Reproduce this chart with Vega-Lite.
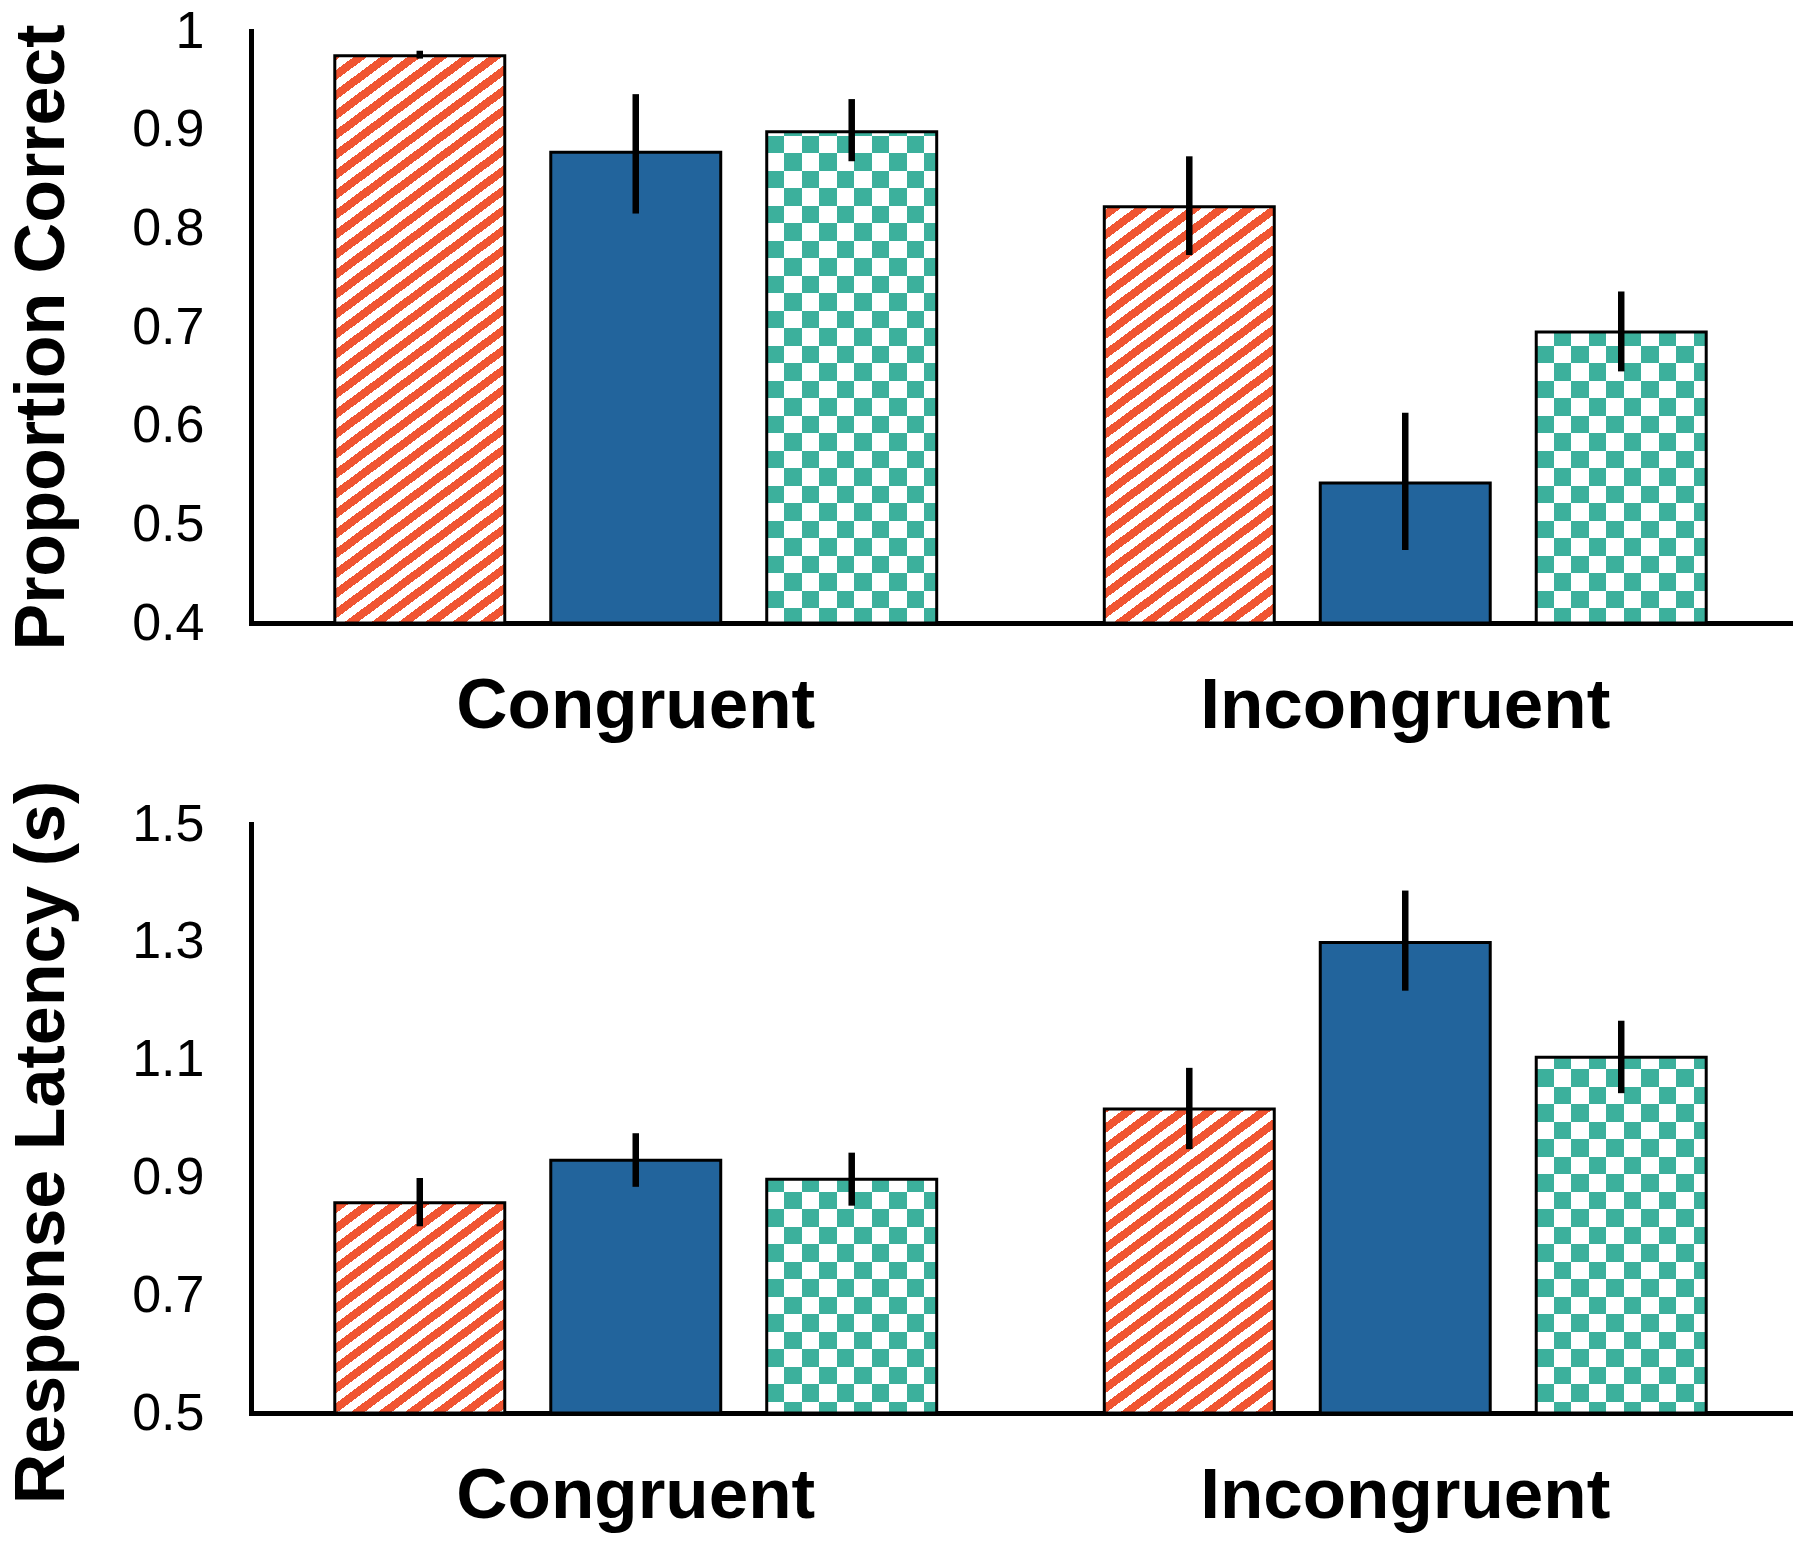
{
  "$schema": "https://vega.github.io/schema/vega-lite/v6.json",
  "padding": {"left": 6, "top": 5, "right": 8, "bottom": 5},
  "background": "white",
  "spacing": 201,
  "bounds": "flush",
  "datasets": {
    "acc": [
      {"cond": "Congruent", "grp": "Group 1", "value": 0.975, "lo": 0.972, "hi": 0.980},
      {"cond": "Congruent", "grp": "Group 2", "value": 0.877, "lo": 0.815, "hi": 0.936},
      {"cond": "Congruent", "grp": "Group 3", "value": 0.898, "lo": 0.868, "hi": 0.931},
      {"cond": "Incongruent", "grp": "Group 1", "value": 0.822, "lo": 0.773, "hi": 0.873},
      {"cond": "Incongruent", "grp": "Group 2", "value": 0.542, "lo": 0.474, "hi": 0.613},
      {"cond": "Incongruent", "grp": "Group 3", "value": 0.695, "lo": 0.655, "hi": 0.736}
    ],
    "rt": [
      {"cond": "Congruent", "grp": "Group 1", "value": 0.857, "lo": 0.817, "hi": 0.899},
      {"cond": "Congruent", "grp": "Group 2", "value": 0.929, "lo": 0.884, "hi": 0.975},
      {"cond": "Congruent", "grp": "Group 3", "value": 0.897, "lo": 0.852, "hi": 0.942},
      {"cond": "Incongruent", "grp": "Group 1", "value": 1.016, "lo": 0.948, "hi": 1.086},
      {"cond": "Incongruent", "grp": "Group 2", "value": 1.299, "lo": 1.217, "hi": 1.387},
      {"cond": "Incongruent", "grp": "Group 3", "value": 1.104, "lo": 1.043, "hi": 1.166}
    ]
  },
  "vconcat": [
    {
      "width": 1539,
      "height": 592,
      "data": {"name": "acc"},
      "encoding": {
        "x": {"field": "cond", "type": "nominal", "title": null, "scale": {"paddingInner": 0, "paddingOuter": 0}, "axis": {"labelAngle": 0}},
        "xOffset": {"field": "grp", "type": "nominal", "scale": {"paddingInner": 0.213, "paddingOuter": 0.388}}
      },
      "layer": [
        {"transform": [{"filter": "datum.grp === 'Group 1'"}],
         "mark": {"type": "bar", "fill": {"gradient": "linear", "x1": 0, "y1": 0, "x2": 0.2739, "y2": 1.2892, "stops": [
          {"offset": 0, "color": "#f05532"}, {"offset": 0.0125, "color": "#f05532"}, {"offset": 0.0125, "color": "#fff"}, {"offset": 0.025, "color": "#fff"},
          {"offset": 0.025, "color": "#f05532"}, {"offset": 0.0375, "color": "#f05532"}, {"offset": 0.0375, "color": "#fff"}, {"offset": 0.05, "color": "#fff"},
          {"offset": 0.05, "color": "#f05532"}, {"offset": 0.0625, "color": "#f05532"}, {"offset": 0.0625, "color": "#fff"}, {"offset": 0.075, "color": "#fff"},
          {"offset": 0.075, "color": "#f05532"}, {"offset": 0.0875, "color": "#f05532"}, {"offset": 0.0875, "color": "#fff"}, {"offset": 0.1, "color": "#fff"},
          {"offset": 0.1, "color": "#f05532"}, {"offset": 0.1125, "color": "#f05532"}, {"offset": 0.1125, "color": "#fff"}, {"offset": 0.125, "color": "#fff"},
          {"offset": 0.125, "color": "#f05532"}, {"offset": 0.1375, "color": "#f05532"}, {"offset": 0.1375, "color": "#fff"}, {"offset": 0.15, "color": "#fff"},
          {"offset": 0.15, "color": "#f05532"}, {"offset": 0.1625, "color": "#f05532"}, {"offset": 0.1625, "color": "#fff"}, {"offset": 0.175, "color": "#fff"},
          {"offset": 0.175, "color": "#f05532"}, {"offset": 0.1875, "color": "#f05532"}, {"offset": 0.1875, "color": "#fff"}, {"offset": 0.2, "color": "#fff"},
          {"offset": 0.2, "color": "#f05532"}, {"offset": 0.2125, "color": "#f05532"}, {"offset": 0.2125, "color": "#fff"}, {"offset": 0.225, "color": "#fff"},
          {"offset": 0.225, "color": "#f05532"}, {"offset": 0.2375, "color": "#f05532"}, {"offset": 0.2375, "color": "#fff"}, {"offset": 0.25, "color": "#fff"},
          {"offset": 0.25, "color": "#f05532"}, {"offset": 0.2625, "color": "#f05532"}, {"offset": 0.2625, "color": "#fff"}, {"offset": 0.275, "color": "#fff"},
          {"offset": 0.275, "color": "#f05532"}, {"offset": 0.2875, "color": "#f05532"}, {"offset": 0.2875, "color": "#fff"}, {"offset": 0.3, "color": "#fff"},
          {"offset": 0.3, "color": "#f05532"}, {"offset": 0.3125, "color": "#f05532"}, {"offset": 0.3125, "color": "#fff"}, {"offset": 0.325, "color": "#fff"},
          {"offset": 0.325, "color": "#f05532"}, {"offset": 0.3375, "color": "#f05532"}, {"offset": 0.3375, "color": "#fff"}, {"offset": 0.35, "color": "#fff"},
          {"offset": 0.35, "color": "#f05532"}, {"offset": 0.3625, "color": "#f05532"}, {"offset": 0.3625, "color": "#fff"}, {"offset": 0.375, "color": "#fff"},
          {"offset": 0.375, "color": "#f05532"}, {"offset": 0.3875, "color": "#f05532"}, {"offset": 0.3875, "color": "#fff"}, {"offset": 0.4, "color": "#fff"},
          {"offset": 0.4, "color": "#f05532"}, {"offset": 0.4125, "color": "#f05532"}, {"offset": 0.4125, "color": "#fff"}, {"offset": 0.425, "color": "#fff"},
          {"offset": 0.425, "color": "#f05532"}, {"offset": 0.4375, "color": "#f05532"}, {"offset": 0.4375, "color": "#fff"}, {"offset": 0.45, "color": "#fff"},
          {"offset": 0.45, "color": "#f05532"}, {"offset": 0.4625, "color": "#f05532"}, {"offset": 0.4625, "color": "#fff"}, {"offset": 0.475, "color": "#fff"},
          {"offset": 0.475, "color": "#f05532"}, {"offset": 0.4875, "color": "#f05532"}, {"offset": 0.4875, "color": "#fff"}, {"offset": 0.5, "color": "#fff"},
          {"offset": 0.5, "color": "#f05532"}, {"offset": 0.5125, "color": "#f05532"}, {"offset": 0.5125, "color": "#fff"}, {"offset": 0.525, "color": "#fff"},
          {"offset": 0.525, "color": "#f05532"}, {"offset": 0.5375, "color": "#f05532"}, {"offset": 0.5375, "color": "#fff"}, {"offset": 0.55, "color": "#fff"},
          {"offset": 0.55, "color": "#f05532"}, {"offset": 0.5625, "color": "#f05532"}, {"offset": 0.5625, "color": "#fff"}, {"offset": 0.575, "color": "#fff"},
          {"offset": 0.575, "color": "#f05532"}, {"offset": 0.5875, "color": "#f05532"}, {"offset": 0.5875, "color": "#fff"}, {"offset": 0.6, "color": "#fff"},
          {"offset": 0.6, "color": "#f05532"}, {"offset": 0.6125, "color": "#f05532"}, {"offset": 0.6125, "color": "#fff"}, {"offset": 0.625, "color": "#fff"},
          {"offset": 0.625, "color": "#f05532"}, {"offset": 0.6375, "color": "#f05532"}, {"offset": 0.6375, "color": "#fff"}, {"offset": 0.65, "color": "#fff"},
          {"offset": 0.65, "color": "#f05532"}, {"offset": 0.6625, "color": "#f05532"}, {"offset": 0.6625, "color": "#fff"}, {"offset": 0.675, "color": "#fff"},
          {"offset": 0.675, "color": "#f05532"}, {"offset": 0.6875, "color": "#f05532"}, {"offset": 0.6875, "color": "#fff"}, {"offset": 0.7, "color": "#fff"},
          {"offset": 0.7, "color": "#f05532"}, {"offset": 0.7125, "color": "#f05532"}, {"offset": 0.7125, "color": "#fff"}, {"offset": 0.725, "color": "#fff"},
          {"offset": 0.725, "color": "#f05532"}, {"offset": 0.7375, "color": "#f05532"}, {"offset": 0.7375, "color": "#fff"}, {"offset": 0.75, "color": "#fff"},
          {"offset": 0.75, "color": "#f05532"}, {"offset": 0.7625, "color": "#f05532"}, {"offset": 0.7625, "color": "#fff"}, {"offset": 0.775, "color": "#fff"},
          {"offset": 0.775, "color": "#f05532"}, {"offset": 0.7875, "color": "#f05532"}, {"offset": 0.7875, "color": "#fff"}, {"offset": 0.8, "color": "#fff"},
          {"offset": 0.8, "color": "#f05532"}, {"offset": 0.8125, "color": "#f05532"}, {"offset": 0.8125, "color": "#fff"}, {"offset": 0.825, "color": "#fff"},
          {"offset": 0.825, "color": "#f05532"}, {"offset": 0.8375, "color": "#f05532"}, {"offset": 0.8375, "color": "#fff"}, {"offset": 0.85, "color": "#fff"},
          {"offset": 0.85, "color": "#f05532"}, {"offset": 0.8625, "color": "#f05532"}, {"offset": 0.8625, "color": "#fff"}, {"offset": 0.875, "color": "#fff"},
          {"offset": 0.875, "color": "#f05532"}, {"offset": 0.8875, "color": "#f05532"}, {"offset": 0.8875, "color": "#fff"}, {"offset": 0.9, "color": "#fff"},
          {"offset": 0.9, "color": "#f05532"}, {"offset": 0.9125, "color": "#f05532"}, {"offset": 0.9125, "color": "#fff"}, {"offset": 0.925, "color": "#fff"},
          {"offset": 0.925, "color": "#f05532"}, {"offset": 0.9375, "color": "#f05532"}, {"offset": 0.9375, "color": "#fff"}, {"offset": 0.95, "color": "#fff"}
         ]}},
         "encoding": {"y": {"datum": 1, "type": "quantitative", "title": "Proportion Correct", "scale": {"domain": [0.4, 1], "zero": false, "nice": false}, "axis": {"values": [0.4, 0.5, 0.6, 0.7, 0.8, 0.9, 1], "format": "~g", "titleY": 306}}, "y2": {"datum": 0.4}}},
        {"transform": [{"filter": "datum.grp === 'Group 3'"}],
         "mark": {"type": "bar", "fill": {"gradient": "linear", "x1": 0, "y1": 0, "x2": 0, "y2": 1.1824, "stops": [
          {"offset": 0, "color": "#000"}, {"offset": 0.025, "color": "#000"}, {"offset": 0.025, "color": "#fff"}, {"offset": 0.05, "color": "#fff"},
          {"offset": 0.05, "color": "#000"}, {"offset": 0.075, "color": "#000"}, {"offset": 0.075, "color": "#fff"}, {"offset": 0.1, "color": "#fff"},
          {"offset": 0.1, "color": "#000"}, {"offset": 0.125, "color": "#000"}, {"offset": 0.125, "color": "#fff"}, {"offset": 0.15, "color": "#fff"},
          {"offset": 0.15, "color": "#000"}, {"offset": 0.175, "color": "#000"}, {"offset": 0.175, "color": "#fff"}, {"offset": 0.2, "color": "#fff"},
          {"offset": 0.2, "color": "#000"}, {"offset": 0.225, "color": "#000"}, {"offset": 0.225, "color": "#fff"}, {"offset": 0.25, "color": "#fff"},
          {"offset": 0.25, "color": "#000"}, {"offset": 0.275, "color": "#000"}, {"offset": 0.275, "color": "#fff"}, {"offset": 0.3, "color": "#fff"},
          {"offset": 0.3, "color": "#000"}, {"offset": 0.325, "color": "#000"}, {"offset": 0.325, "color": "#fff"}, {"offset": 0.35, "color": "#fff"},
          {"offset": 0.35, "color": "#000"}, {"offset": 0.375, "color": "#000"}, {"offset": 0.375, "color": "#fff"}, {"offset": 0.4, "color": "#fff"},
          {"offset": 0.4, "color": "#000"}, {"offset": 0.425, "color": "#000"}, {"offset": 0.425, "color": "#fff"}, {"offset": 0.45, "color": "#fff"},
          {"offset": 0.45, "color": "#000"}, {"offset": 0.475, "color": "#000"}, {"offset": 0.475, "color": "#fff"}, {"offset": 0.5, "color": "#fff"},
          {"offset": 0.5, "color": "#000"}, {"offset": 0.525, "color": "#000"}, {"offset": 0.525, "color": "#fff"}, {"offset": 0.55, "color": "#fff"},
          {"offset": 0.55, "color": "#000"}, {"offset": 0.575, "color": "#000"}, {"offset": 0.575, "color": "#fff"}, {"offset": 0.6, "color": "#fff"},
          {"offset": 0.6, "color": "#000"}, {"offset": 0.625, "color": "#000"}, {"offset": 0.625, "color": "#fff"}, {"offset": 0.65, "color": "#fff"},
          {"offset": 0.65, "color": "#000"}, {"offset": 0.675, "color": "#000"}, {"offset": 0.675, "color": "#fff"}, {"offset": 0.7, "color": "#fff"},
          {"offset": 0.7, "color": "#000"}, {"offset": 0.725, "color": "#000"}, {"offset": 0.725, "color": "#fff"}, {"offset": 0.75, "color": "#fff"},
          {"offset": 0.75, "color": "#000"}, {"offset": 0.775, "color": "#000"}, {"offset": 0.775, "color": "#fff"}, {"offset": 0.8, "color": "#fff"},
          {"offset": 0.8, "color": "#000"}, {"offset": 0.825, "color": "#000"}, {"offset": 0.825, "color": "#fff"}, {"offset": 0.85, "color": "#fff"},
          {"offset": 0.85, "color": "#000"}, {"offset": 0.875, "color": "#000"}, {"offset": 0.875, "color": "#fff"}, {"offset": 0.9, "color": "#fff"}
         ]}},
         "encoding": {"y": {"datum": 1, "type": "quantitative", "title": "Proportion Correct"}, "y2": {"datum": 0.4}}},
        {"transform": [{"filter": "datum.grp === 'Group 3'"}],
         "mark": {"type": "bar", "blend": "difference", "fill": {"gradient": "linear", "x1": 0, "y1": 0, "x2": 1.0294, "y2": 0, "stops": [
          {"offset": 0, "color": "#000"}, {"offset": 0.1, "color": "#000"}, {"offset": 0.1, "color": "#fff"}, {"offset": 0.2, "color": "#fff"},
          {"offset": 0.2, "color": "#000"}, {"offset": 0.3, "color": "#000"}, {"offset": 0.3, "color": "#fff"}, {"offset": 0.4, "color": "#fff"},
          {"offset": 0.4, "color": "#000"}, {"offset": 0.5, "color": "#000"}, {"offset": 0.5, "color": "#fff"}, {"offset": 0.6, "color": "#fff"},
          {"offset": 0.6, "color": "#000"}, {"offset": 0.7, "color": "#000"}, {"offset": 0.7, "color": "#fff"}, {"offset": 0.8, "color": "#fff"},
          {"offset": 0.8, "color": "#000"}, {"offset": 0.9, "color": "#000"}, {"offset": 0.9, "color": "#fff"}, {"offset": 1, "color": "#fff"}
         ]}},
         "encoding": {"y": {"datum": 1, "type": "quantitative", "title": "Proportion Correct"}, "y2": {"datum": 0.4}}},
        {"transform": [{"filter": "datum.grp === 'Group 3'"}], "mark": {"type": "bar", "color": "#3cb09c", "blend": "screen"},
         "encoding": {"y": {"field": "value", "type": "quantitative", "title": "Proportion Correct"}, "y2": {"datum": 0.4}}},
        {"transform": [{"filter": "datum.grp !== 'Group 2'"}], "mark": {"type": "bar", "color": "white", "stroke": "white", "strokeWidth": 2},
         "encoding": {"y": {"field": "value", "type": "quantitative", "title": "Proportion Correct"}, "y2": {"datum": 1}}},
        {"transform": [{"filter": "datum.grp === 'Group 2'"}], "mark": {"type": "bar", "color": "#22649c"},
         "encoding": {"y": {"field": "value", "type": "quantitative", "title": "Proportion Correct"}, "y2": {"datum": 0.4}}},
        {"mark": {"type": "bar", "fill": "transparent", "stroke": "black", "strokeWidth": 3},
         "encoding": {"y": {"field": "value", "type": "quantitative", "title": "Proportion Correct"}, "y2": {"datum": 0.4}}},
        {"mark": {"type": "rule", "color": "black", "strokeWidth": 6.5},
         "encoding": {"y": {"field": "lo", "type": "quantitative", "title": "Proportion Correct"}, "y2": {"field": "hi"}}}
      ]
    },
    {
      "width": 1539,
      "height": 589,
      "data": {"name": "rt"},
      "encoding": {
        "x": {"field": "cond", "type": "nominal", "title": null, "scale": {"paddingInner": 0, "paddingOuter": 0}, "axis": {"labelAngle": 0}},
        "xOffset": {"field": "grp", "type": "nominal", "scale": {"paddingInner": 0.213, "paddingOuter": 0.388}}
      },
      "layer": [
        {"transform": [{"filter": "datum.grp === 'Group 1'"}],
         "mark": {"type": "bar", "fill": {"gradient": "linear", "x1": 0, "y1": 0, "x2": 0.27744, "y2": 1.29898, "stops": [
          {"offset": 0, "color": "#f05532"}, {"offset": 0.0125, "color": "#f05532"}, {"offset": 0.0125, "color": "#fff"}, {"offset": 0.025, "color": "#fff"},
          {"offset": 0.025, "color": "#f05532"}, {"offset": 0.0375, "color": "#f05532"}, {"offset": 0.0375, "color": "#fff"}, {"offset": 0.05, "color": "#fff"},
          {"offset": 0.05, "color": "#f05532"}, {"offset": 0.0625, "color": "#f05532"}, {"offset": 0.0625, "color": "#fff"}, {"offset": 0.075, "color": "#fff"},
          {"offset": 0.075, "color": "#f05532"}, {"offset": 0.0875, "color": "#f05532"}, {"offset": 0.0875, "color": "#fff"}, {"offset": 0.1, "color": "#fff"},
          {"offset": 0.1, "color": "#f05532"}, {"offset": 0.1125, "color": "#f05532"}, {"offset": 0.1125, "color": "#fff"}, {"offset": 0.125, "color": "#fff"},
          {"offset": 0.125, "color": "#f05532"}, {"offset": 0.1375, "color": "#f05532"}, {"offset": 0.1375, "color": "#fff"}, {"offset": 0.15, "color": "#fff"},
          {"offset": 0.15, "color": "#f05532"}, {"offset": 0.1625, "color": "#f05532"}, {"offset": 0.1625, "color": "#fff"}, {"offset": 0.175, "color": "#fff"},
          {"offset": 0.175, "color": "#f05532"}, {"offset": 0.1875, "color": "#f05532"}, {"offset": 0.1875, "color": "#fff"}, {"offset": 0.2, "color": "#fff"},
          {"offset": 0.2, "color": "#f05532"}, {"offset": 0.2125, "color": "#f05532"}, {"offset": 0.2125, "color": "#fff"}, {"offset": 0.225, "color": "#fff"},
          {"offset": 0.225, "color": "#f05532"}, {"offset": 0.2375, "color": "#f05532"}, {"offset": 0.2375, "color": "#fff"}, {"offset": 0.25, "color": "#fff"},
          {"offset": 0.25, "color": "#f05532"}, {"offset": 0.2625, "color": "#f05532"}, {"offset": 0.2625, "color": "#fff"}, {"offset": 0.275, "color": "#fff"},
          {"offset": 0.275, "color": "#f05532"}, {"offset": 0.2875, "color": "#f05532"}, {"offset": 0.2875, "color": "#fff"}, {"offset": 0.3, "color": "#fff"},
          {"offset": 0.3, "color": "#f05532"}, {"offset": 0.3125, "color": "#f05532"}, {"offset": 0.3125, "color": "#fff"}, {"offset": 0.325, "color": "#fff"},
          {"offset": 0.325, "color": "#f05532"}, {"offset": 0.3375, "color": "#f05532"}, {"offset": 0.3375, "color": "#fff"}, {"offset": 0.35, "color": "#fff"},
          {"offset": 0.35, "color": "#f05532"}, {"offset": 0.3625, "color": "#f05532"}, {"offset": 0.3625, "color": "#fff"}, {"offset": 0.375, "color": "#fff"},
          {"offset": 0.375, "color": "#f05532"}, {"offset": 0.3875, "color": "#f05532"}, {"offset": 0.3875, "color": "#fff"}, {"offset": 0.4, "color": "#fff"},
          {"offset": 0.4, "color": "#f05532"}, {"offset": 0.4125, "color": "#f05532"}, {"offset": 0.4125, "color": "#fff"}, {"offset": 0.425, "color": "#fff"},
          {"offset": 0.425, "color": "#f05532"}, {"offset": 0.4375, "color": "#f05532"}, {"offset": 0.4375, "color": "#fff"}, {"offset": 0.45, "color": "#fff"},
          {"offset": 0.45, "color": "#f05532"}, {"offset": 0.4625, "color": "#f05532"}, {"offset": 0.4625, "color": "#fff"}, {"offset": 0.475, "color": "#fff"},
          {"offset": 0.475, "color": "#f05532"}, {"offset": 0.4875, "color": "#f05532"}, {"offset": 0.4875, "color": "#fff"}, {"offset": 0.5, "color": "#fff"},
          {"offset": 0.5, "color": "#f05532"}, {"offset": 0.5125, "color": "#f05532"}, {"offset": 0.5125, "color": "#fff"}, {"offset": 0.525, "color": "#fff"},
          {"offset": 0.525, "color": "#f05532"}, {"offset": 0.5375, "color": "#f05532"}, {"offset": 0.5375, "color": "#fff"}, {"offset": 0.55, "color": "#fff"},
          {"offset": 0.55, "color": "#f05532"}, {"offset": 0.5625, "color": "#f05532"}, {"offset": 0.5625, "color": "#fff"}, {"offset": 0.575, "color": "#fff"},
          {"offset": 0.575, "color": "#f05532"}, {"offset": 0.5875, "color": "#f05532"}, {"offset": 0.5875, "color": "#fff"}, {"offset": 0.6, "color": "#fff"},
          {"offset": 0.6, "color": "#f05532"}, {"offset": 0.6125, "color": "#f05532"}, {"offset": 0.6125, "color": "#fff"}, {"offset": 0.625, "color": "#fff"},
          {"offset": 0.625, "color": "#f05532"}, {"offset": 0.6375, "color": "#f05532"}, {"offset": 0.6375, "color": "#fff"}, {"offset": 0.65, "color": "#fff"},
          {"offset": 0.65, "color": "#f05532"}, {"offset": 0.6625, "color": "#f05532"}, {"offset": 0.6625, "color": "#fff"}, {"offset": 0.675, "color": "#fff"},
          {"offset": 0.675, "color": "#f05532"}, {"offset": 0.6875, "color": "#f05532"}, {"offset": 0.6875, "color": "#fff"}, {"offset": 0.7, "color": "#fff"},
          {"offset": 0.7, "color": "#f05532"}, {"offset": 0.7125, "color": "#f05532"}, {"offset": 0.7125, "color": "#fff"}, {"offset": 0.725, "color": "#fff"},
          {"offset": 0.725, "color": "#f05532"}, {"offset": 0.7375, "color": "#f05532"}, {"offset": 0.7375, "color": "#fff"}, {"offset": 0.75, "color": "#fff"},
          {"offset": 0.75, "color": "#f05532"}, {"offset": 0.7625, "color": "#f05532"}, {"offset": 0.7625, "color": "#fff"}, {"offset": 0.775, "color": "#fff"},
          {"offset": 0.775, "color": "#f05532"}, {"offset": 0.7875, "color": "#f05532"}, {"offset": 0.7875, "color": "#fff"}, {"offset": 0.8, "color": "#fff"},
          {"offset": 0.8, "color": "#f05532"}, {"offset": 0.8125, "color": "#f05532"}, {"offset": 0.8125, "color": "#fff"}, {"offset": 0.825, "color": "#fff"},
          {"offset": 0.825, "color": "#f05532"}, {"offset": 0.8375, "color": "#f05532"}, {"offset": 0.8375, "color": "#fff"}, {"offset": 0.85, "color": "#fff"},
          {"offset": 0.85, "color": "#f05532"}, {"offset": 0.8625, "color": "#f05532"}, {"offset": 0.8625, "color": "#fff"}, {"offset": 0.875, "color": "#fff"},
          {"offset": 0.875, "color": "#f05532"}, {"offset": 0.8875, "color": "#f05532"}, {"offset": 0.8875, "color": "#fff"}, {"offset": 0.9, "color": "#fff"},
          {"offset": 0.9, "color": "#f05532"}, {"offset": 0.9125, "color": "#f05532"}, {"offset": 0.9125, "color": "#fff"}, {"offset": 0.925, "color": "#fff"},
          {"offset": 0.925, "color": "#f05532"}, {"offset": 0.9375, "color": "#f05532"}, {"offset": 0.9375, "color": "#fff"}, {"offset": 0.95, "color": "#fff"}
         ]}},
         "encoding": {"y": {"datum": 1.5, "type": "quantitative", "title": "Response Latency (s)", "scale": {"domain": [0.5, 1.5], "zero": false, "nice": false}, "axis": {"values": [0.5, 0.7, 0.9, 1.1, 1.3, 1.5], "format": "~g", "titleY": 318}}, "y2": {"datum": 0.5}}},
        {"transform": [{"filter": "datum.grp === 'Group 3'"}],
         "mark": {"type": "bar", "fill": {"gradient": "linear", "x1": 0, "y1": 0, "x2": 0, "y2": 1.1885, "stops": [
          {"offset": 0, "color": "#000"}, {"offset": 0.025, "color": "#000"}, {"offset": 0.025, "color": "#fff"}, {"offset": 0.05, "color": "#fff"},
          {"offset": 0.05, "color": "#000"}, {"offset": 0.075, "color": "#000"}, {"offset": 0.075, "color": "#fff"}, {"offset": 0.1, "color": "#fff"},
          {"offset": 0.1, "color": "#000"}, {"offset": 0.125, "color": "#000"}, {"offset": 0.125, "color": "#fff"}, {"offset": 0.15, "color": "#fff"},
          {"offset": 0.15, "color": "#000"}, {"offset": 0.175, "color": "#000"}, {"offset": 0.175, "color": "#fff"}, {"offset": 0.2, "color": "#fff"},
          {"offset": 0.2, "color": "#000"}, {"offset": 0.225, "color": "#000"}, {"offset": 0.225, "color": "#fff"}, {"offset": 0.25, "color": "#fff"},
          {"offset": 0.25, "color": "#000"}, {"offset": 0.275, "color": "#000"}, {"offset": 0.275, "color": "#fff"}, {"offset": 0.3, "color": "#fff"},
          {"offset": 0.3, "color": "#000"}, {"offset": 0.325, "color": "#000"}, {"offset": 0.325, "color": "#fff"}, {"offset": 0.35, "color": "#fff"},
          {"offset": 0.35, "color": "#000"}, {"offset": 0.375, "color": "#000"}, {"offset": 0.375, "color": "#fff"}, {"offset": 0.4, "color": "#fff"},
          {"offset": 0.4, "color": "#000"}, {"offset": 0.425, "color": "#000"}, {"offset": 0.425, "color": "#fff"}, {"offset": 0.45, "color": "#fff"},
          {"offset": 0.45, "color": "#000"}, {"offset": 0.475, "color": "#000"}, {"offset": 0.475, "color": "#fff"}, {"offset": 0.5, "color": "#fff"},
          {"offset": 0.5, "color": "#000"}, {"offset": 0.525, "color": "#000"}, {"offset": 0.525, "color": "#fff"}, {"offset": 0.55, "color": "#fff"},
          {"offset": 0.55, "color": "#000"}, {"offset": 0.575, "color": "#000"}, {"offset": 0.575, "color": "#fff"}, {"offset": 0.6, "color": "#fff"},
          {"offset": 0.6, "color": "#000"}, {"offset": 0.625, "color": "#000"}, {"offset": 0.625, "color": "#fff"}, {"offset": 0.65, "color": "#fff"},
          {"offset": 0.65, "color": "#000"}, {"offset": 0.675, "color": "#000"}, {"offset": 0.675, "color": "#fff"}, {"offset": 0.7, "color": "#fff"},
          {"offset": 0.7, "color": "#000"}, {"offset": 0.725, "color": "#000"}, {"offset": 0.725, "color": "#fff"}, {"offset": 0.75, "color": "#fff"},
          {"offset": 0.75, "color": "#000"}, {"offset": 0.775, "color": "#000"}, {"offset": 0.775, "color": "#fff"}, {"offset": 0.8, "color": "#fff"},
          {"offset": 0.8, "color": "#000"}, {"offset": 0.825, "color": "#000"}, {"offset": 0.825, "color": "#fff"}, {"offset": 0.85, "color": "#fff"},
          {"offset": 0.85, "color": "#000"}, {"offset": 0.875, "color": "#000"}, {"offset": 0.875, "color": "#fff"}, {"offset": 0.9, "color": "#fff"}
         ]}},
         "encoding": {"y": {"datum": 1.5, "type": "quantitative", "title": "Response Latency (s)"}, "y2": {"datum": 0.5}}},
        {"transform": [{"filter": "datum.grp === 'Group 3'"}],
         "mark": {"type": "bar", "blend": "difference", "fill": {"gradient": "linear", "x1": 0, "y1": 0, "x2": 1.0294, "y2": 0, "stops": [
          {"offset": 0, "color": "#000"}, {"offset": 0.1, "color": "#000"}, {"offset": 0.1, "color": "#fff"}, {"offset": 0.2, "color": "#fff"},
          {"offset": 0.2, "color": "#000"}, {"offset": 0.3, "color": "#000"}, {"offset": 0.3, "color": "#fff"}, {"offset": 0.4, "color": "#fff"},
          {"offset": 0.4, "color": "#000"}, {"offset": 0.5, "color": "#000"}, {"offset": 0.5, "color": "#fff"}, {"offset": 0.6, "color": "#fff"},
          {"offset": 0.6, "color": "#000"}, {"offset": 0.7, "color": "#000"}, {"offset": 0.7, "color": "#fff"}, {"offset": 0.8, "color": "#fff"},
          {"offset": 0.8, "color": "#000"}, {"offset": 0.9, "color": "#000"}, {"offset": 0.9, "color": "#fff"}, {"offset": 1, "color": "#fff"}
         ]}},
         "encoding": {"y": {"datum": 1.5, "type": "quantitative", "title": "Response Latency (s)"}, "y2": {"datum": 0.5}}},
        {"transform": [{"filter": "datum.grp === 'Group 3'"}], "mark": {"type": "bar", "color": "#3cb09c", "blend": "screen"},
         "encoding": {"y": {"field": "value", "type": "quantitative", "title": "Response Latency (s)"}, "y2": {"datum": 0.5}}},
        {"transform": [{"filter": "datum.grp !== 'Group 2'"}], "mark": {"type": "bar", "color": "white", "stroke": "white", "strokeWidth": 2},
         "encoding": {"y": {"field": "value", "type": "quantitative", "title": "Response Latency (s)"}, "y2": {"datum": 1.5}}},
        {"transform": [{"filter": "datum.grp === 'Group 2'"}], "mark": {"type": "bar", "color": "#22649c"},
         "encoding": {"y": {"field": "value", "type": "quantitative", "title": "Response Latency (s)"}, "y2": {"datum": 0.5}}},
        {"mark": {"type": "bar", "fill": "transparent", "stroke": "black", "strokeWidth": 3},
         "encoding": {"y": {"field": "value", "type": "quantitative", "title": "Response Latency (s)"}, "y2": {"datum": 0.5}}},
        {"mark": {"type": "rule", "color": "black", "strokeWidth": 6.5},
         "encoding": {"y": {"field": "lo", "type": "quantitative", "title": "Response Latency (s)"}, "y2": {"field": "hi"}}}
      ]
    }
  ],
  "config": {
    "view": {"stroke": null},
    "axis": {"grid": false, "ticks": false, "tickSize": 0, "domainColor": "black", "domainWidth": 5, "domainCap": "square", "labelColor": "black", "labelFont": "Liberation Sans", "titleFont": "Liberation Sans", "titleColor": "black"},
    "axisY": {"labelFontSize": 52, "labelPadding": 47, "labelBaseline": "middle", "titleFontSize": 70, "titleFontWeight": "bold", "titleAngle": 270, "titleBaseline": "alphabetic", "titleAlign": "center", "titleX": -188},
    "axisX": {"labelFontSize": 71, "labelFontWeight": "bold", "labelPadding": 48, "labelLimit": 0}
  }
}
